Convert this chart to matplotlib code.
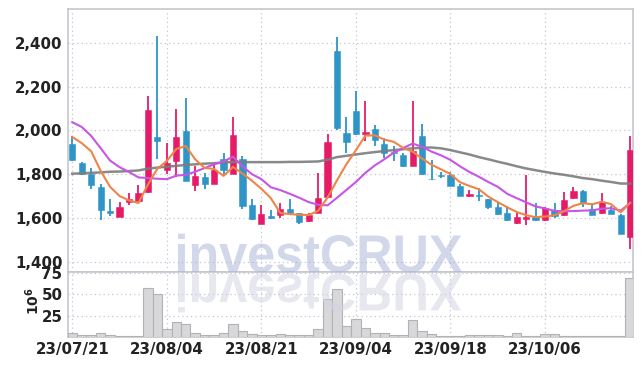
import numpy as np
import pandas as pd
import matplotlib
matplotlib.use("Agg")
import matplotlib.pyplot as plt
from matplotlib.font_manager import FontProperties
from matplotlib.textpath import TextPath
from matplotlib.patches import PathPatch
from matplotlib.transforms import Affine2D

# ── Data ──────────────────────────────────────────────────────────────────────
holidays = ['2023-08-15', '2023-09-28', '2023-09-29', '2023-10-02',
            '2023-10-03', '2023-10-09']
dates = pd.bdate_range('2023-07-21', '2023-10-20', freq='C', holidays=holidays)

opens = [1939, 1853, 1802, 1742, 1633, 1606, 1674, 1678, 1716, 1971,
         1820, 1858, 1999, 1750, 1788, 1756, 1870, 1802, 1870, 1657,
         1574, 1608, 1611, 1642, 1620, 1585, 1623, 1695, 2363, 1988,
         2090, 1982, 2008, 1939, 1903, 1887, 1838, 1976, 1780, 1796,
         1794, 1744, 1698, 1704, 1686, 1649, 1622, 1576, 1594, 1602,
         1588, 1637, 1612, 1689, 1724, 1640, 1620, 1637, 1614, 1512]
highs = [1973, 1856, 1829, 1756, 1688, 1672, 1713, 1751, 2156, 2433,
         1942, 2098, 2148, 1838, 1805, 1848, 1897, 2061, 1881, 1686,
         1660, 1636, 1668, 1686, 1624, 1623, 1805, 1985, 2427, 2061,
         2182, 2136, 2026, 1965, 1931, 1897, 2136, 2029, 1866, 1812,
         1812, 1756, 1729, 1737, 1688, 1672, 1652, 1622, 1794, 1668,
         1650, 1668, 1716, 1742, 1726, 1668, 1713, 1652, 1616, 1973]
lows = [1860, 1796, 1732, 1590, 1610, 1604, 1660, 1676, 1714, 1869,
        1802, 1789, 1768, 1721, 1732, 1754, 1793, 1800, 1640, 1591,
        1572, 1593, 1599, 1620, 1574, 1583, 1621, 1693, 2003, 1899,
        1980, 1950, 1927, 1874, 1858, 1832, 1836, 1797, 1774, 1782,
        1745, 1700, 1697, 1675, 1642, 1611, 1586, 1574, 1568, 1586,
        1586, 1597, 1610, 1687, 1649, 1612, 1618, 1617, 1525, 1457]
closes = [1866, 1802, 1748, 1637, 1620, 1649, 1686, 1715, 2094, 1953,
          1851, 1971, 1770, 1793, 1756, 1820, 1817, 1980, 1652, 1596,
          1619, 1597, 1642, 1622, 1579, 1614, 1692, 1947, 2012, 1945,
          1982, 1994, 1954, 1899, 1895, 1838, 1908, 1799, 1776, 1793,
          1747, 1702, 1709, 1700, 1648, 1619, 1588, 1604, 1604, 1588,
          1646, 1607, 1683, 1724, 1670, 1614, 1674, 1619, 1527, 1912]
volume_m = [4.4, 2.9, 2.9, 4.4, 2.9, 1.3, 1.3, 1.3, 57.6, 50.6,
            9.1, 18.0, 14.9, 4.4, 2.9, 2.9, 5.2, 15.5, 6.5, 3.1,
            2.0, 2.0, 3.1, 2.0, 2.0, 2.0, 9.1, 44.0, 56.6, 12.6,
            20.5, 10.0, 4.4, 4.4, 2.9, 1.8, 20.3, 7.1, 3.3, 1.7,
            1.7, 1.5, 2.4, 2.4, 2.4, 2.4, 1.5, 4.4, 1.5, 1.5,
            3.3, 3.3, 1.5, 1.5, 1.2, 1.5, 1.5, 1.5, 1.5, 69.0]
ma5 = [1970, 1942, 1905, 1815, 1742, 1700, 1680, 1668, 1752, 1825,
       1860, 1915, 1929, 1868, 1828, 1824, 1792, 1833, 1803, 1770,
       1733, 1690, 1622, 1617, 1614, 1613, 1632, 1693, 1772, 1846,
       1910, 1976, 1978, 1958, 1948, 1920, 1903, 1871, 1843, 1822,
       1800, 1763, 1746, 1731, 1697, 1672, 1648, 1627, 1612, 1603,
       1606, 1612, 1630, 1655, 1667, 1662, 1674, 1662, 1625, 1669]
ma10 = [2038, 2016, 1975, 1919, 1862, 1832, 1810, 1785, 1782, 1779,
        1777, 1793, 1797, 1811, 1828, 1845, 1858, 1880, 1836, 1800,
        1777, 1740, 1727, 1710, 1692, 1672, 1660, 1657, 1692, 1728,
        1764, 1806, 1840, 1868, 1898, 1920, 1940, 1925, 1903, 1886,
        1865, 1836, 1810, 1788, 1764, 1742, 1710, 1690, 1671, 1652,
        1643, 1632, 1630, 1631, 1633, 1634, 1642, 1644, 1633, 1668]
ma_long = [1802, 1804, 1806, 1808, 1811, 1812, 1814, 1817, 1825, 1830,
           1834, 1838, 1842, 1845, 1848, 1850, 1853, 1856, 1855, 1855,
           1855, 1855, 1855, 1856, 1856, 1857, 1858, 1866, 1878, 1884,
           1890, 1896, 1901, 1906, 1910, 1914, 1918, 1921, 1922, 1918,
           1910, 1900, 1890, 1878, 1868, 1857, 1847, 1836, 1826, 1818,
           1810, 1803, 1797, 1790, 1782, 1777, 1770, 1764, 1757, 1757]

price_ticks = [1400, 1600, 1800, 2000, 2200, 2400]
volume_ticks = [25, 50, 75]

UP, DOWN = '#e61b68', '#2e95c6'
GRID = '#c4c4d8'
SPINE = '#c6c6ce'

plt.rcParams['font.family'] = ['Liberation Sans Narrow', 'DejaVu Sans']
plt.rcParams['font.weight'] = 'bold'
plt.rcParams['mathtext.default'] = 'regular'

W, H = 642, 366
fig = plt.figure(figsize=(W / 100, H / 100), dpi=100)
ax = fig.add_axes([68 / W, 1 - 272 / H, 565 / W, 263 / H])
axv = fig.add_axes([68 / W, 1 - 337 / H, 565 / W, 65 / H])

x = np.arange(len(dates))
o, h, l, c = map(np.asarray, (opens, highs, lows, closes))
up = c >= o
colors = np.where(up, UP, DOWN)

# candles
ax.vlines(x, l, h, colors=colors, linewidth=1.3, zorder=3)
ax.bar(x, np.maximum(np.abs(c - o), 3), bottom=np.minimum(o, c), width=0.66,
       color=colors, edgecolor=colors, linewidth=0.4, zorder=4)

# moving averages
ax.plot(x, ma_long, color='#7c7c7c', linewidth=1.8, alpha=0.9, zorder=5)
ax.plot(x, ma10, color='#c855e6', linewidth=1.5, zorder=6)
ax.plot(x, ma5, color='#ee8548', linewidth=1.5, zorder=7)

# volume
axv.bar(x, volume_m, width=1.0, color='#d8d8db', edgecolor='#b2b2b6',
        linewidth=0.8, zorder=3)

tick_idx = x[::10]
tick_lbl = [d.strftime('%y/%m/%d') for d in dates[::10]]

for a in (ax, axv):
    a.set_xlim(-0.45, 59.3)
    a.set_xticks(tick_idx)
    a.grid(True, color=GRID, linestyle=(0, (1, 2.5)), linewidth=0.9, zorder=0)
    a.set_axisbelow(True)
    a.tick_params(length=0, labelsize=10.8, colors='#222222', pad=4)
    for s in a.spines.values():
        s.set_color(SPINE)
        s.set_linewidth(1.2)

ax.set_ylim(1352, 2556)
ax.set_yticks(price_ticks)
ax.set_yticklabels([f'{v:,}' for v in price_ticks])
ax.set_xticklabels([])

axv.set_ylim(0, 76)
axv.set_yticks(volume_ticks)
axv.set_xticklabels(tick_lbl)
axv.tick_params(axis='x', pad=3.5)

fig.text(33 / W, 1 - 301 / H, r'$10^6$', rotation=90, ha='center', va='center',
         fontsize=10, color='#222222')

# watermark with reflection
fp = FontProperties(family='Liberation Sans', weight='bold')
tp = TextPath((0, 0), 'investCRUX', size=1, prop=fp)
ext = tp.get_extents()
sx = 284 / ext.width
sy = 53.0


def _wm(color, alpha, base, flip):
    tr = (Affine2D().translate(-ext.x0, 0)
          .scale(sx, -sy if flip else sy)
          .translate(178, base)
          .scale(1 / W, 1 / H) + fig.transFigure)
    fig.add_artist(PathPatch(tp, transform=tr, facecolor=color,
                             edgecolor='none', alpha=alpha, zorder=10))


_wm('#a9b5d8', 0.52, H - 272, False)
_wm('#d4d4e4', 0.55, H - 274, True)

fig.savefig('out.png', dpi=100)
